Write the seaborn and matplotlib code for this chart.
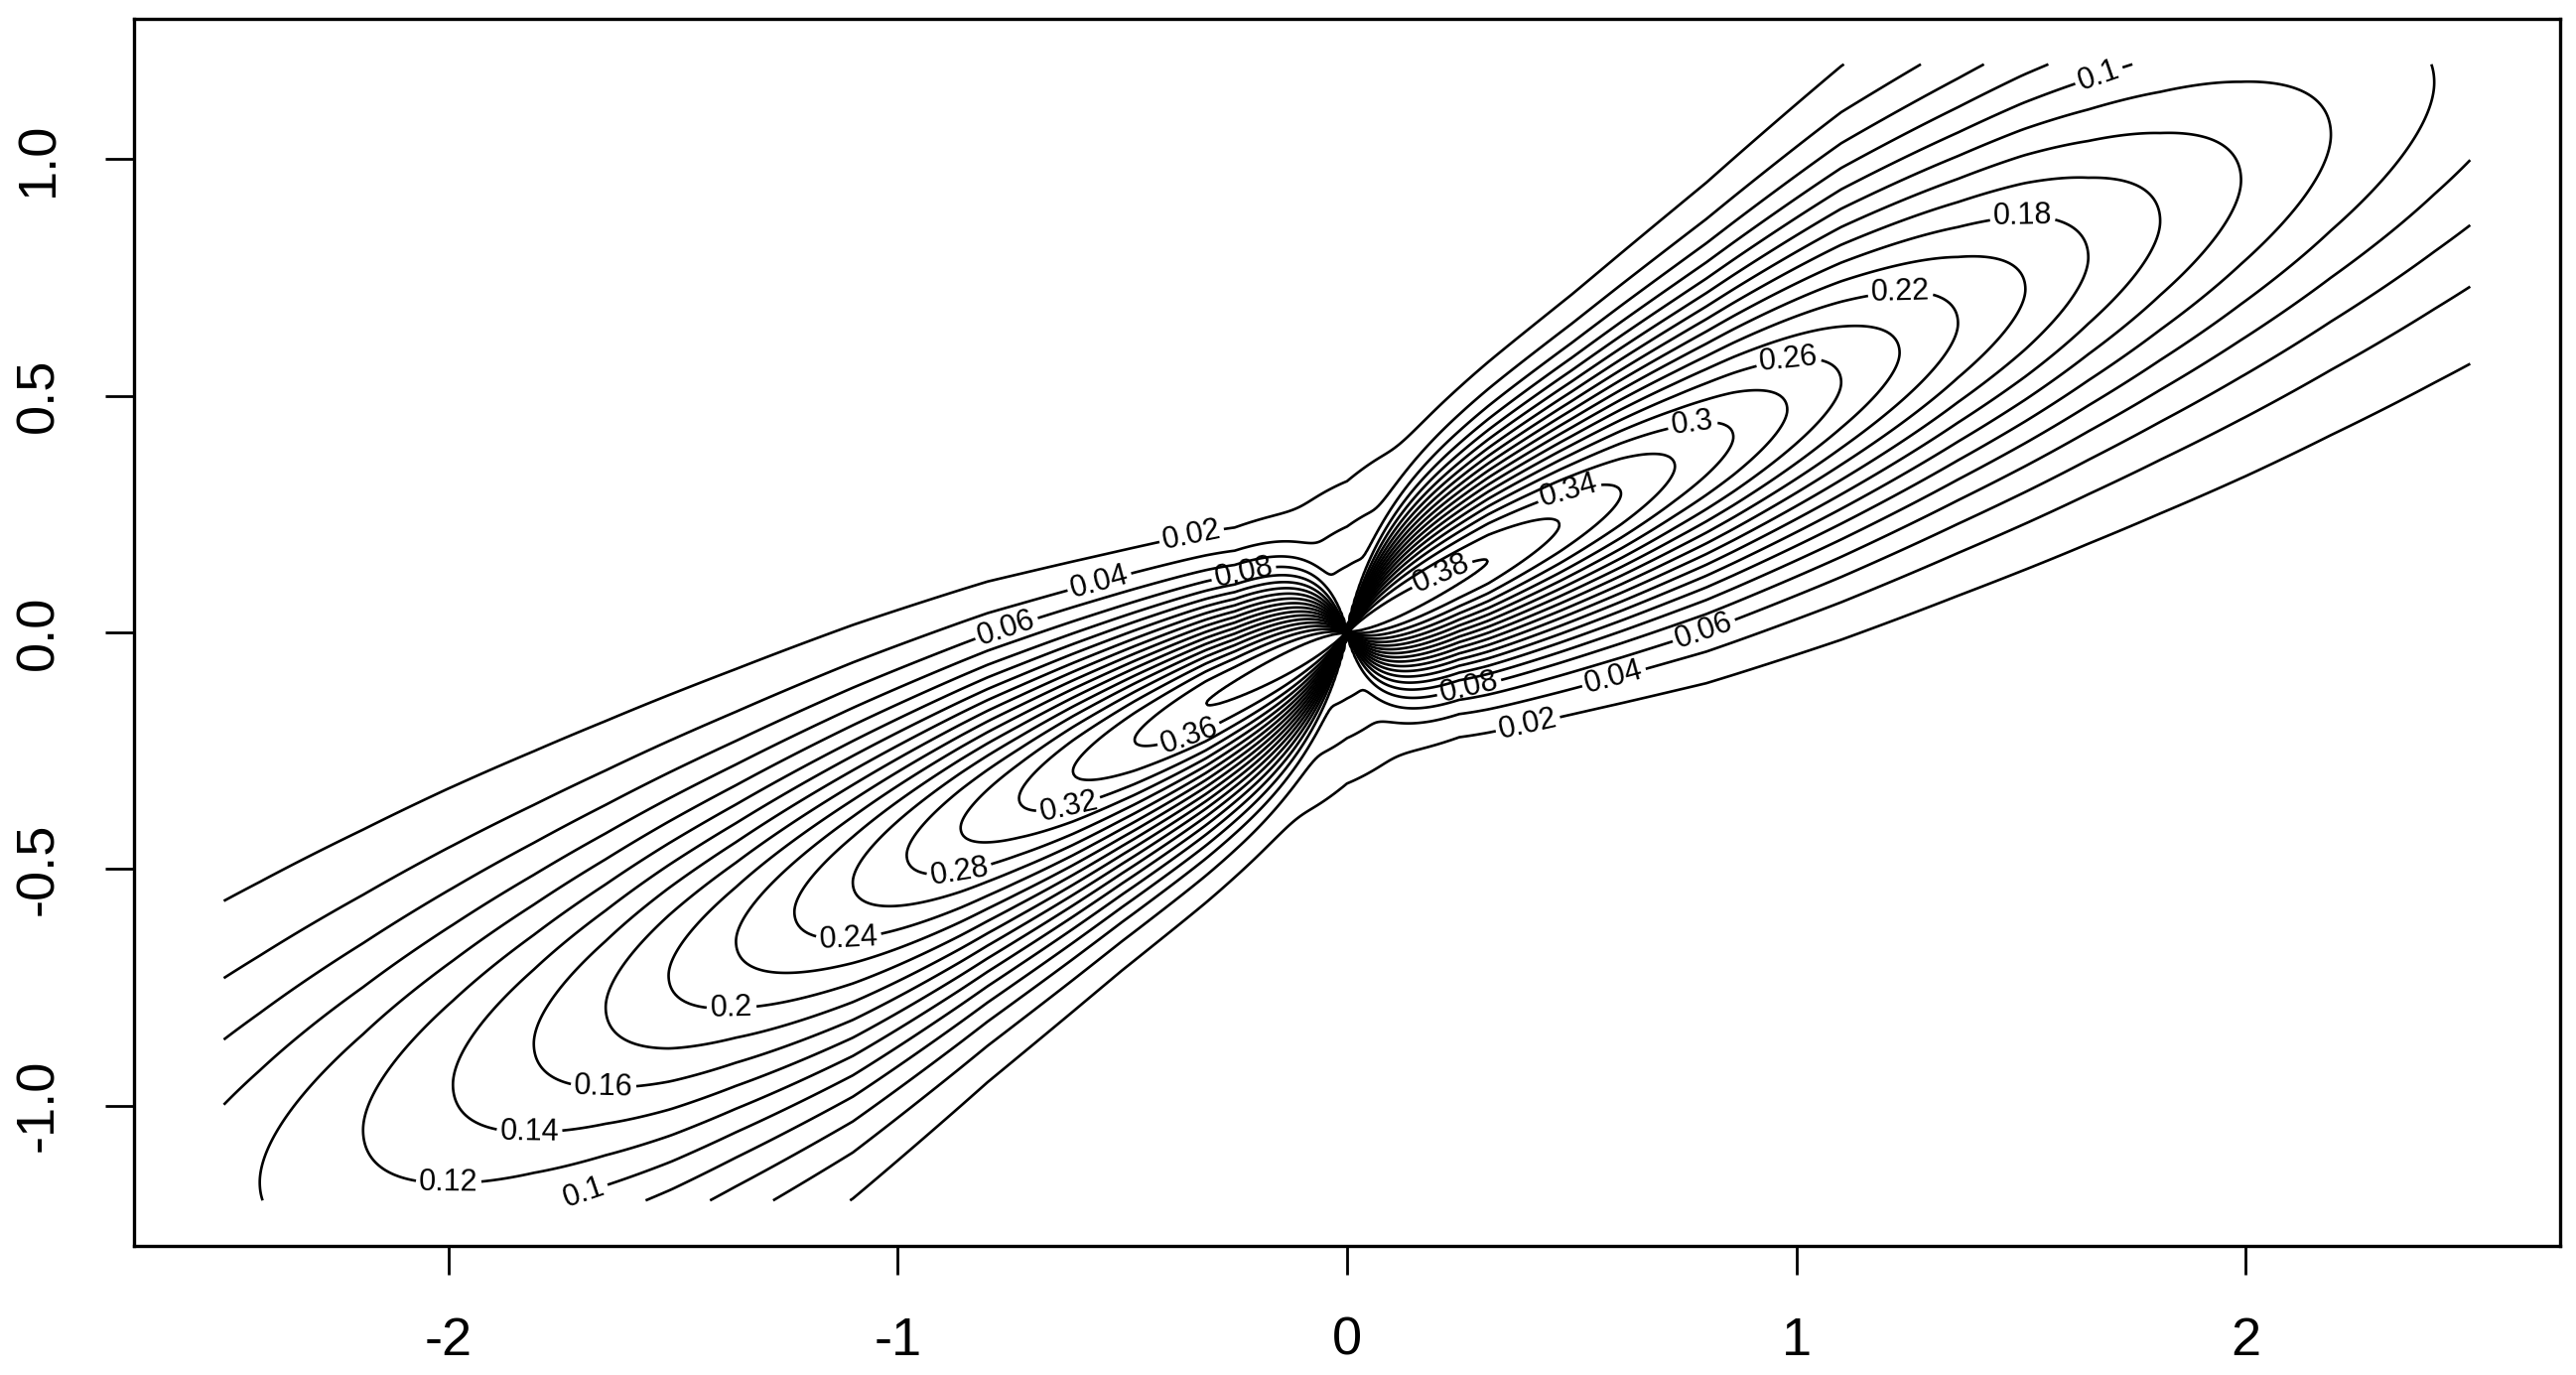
import numpy as np
import seaborn as sns
import matplotlib
matplotlib.use("Agg")
import matplotlib.pyplot as plt

# ridge of the surface runs along y = ridge_slope * x
ridge_slope = 0.48

ridge_x = [0.0, 0.314, 0.473, 0.61, 0.73, 0.86, 0.98, 1.10, 1.23, 1.36,
           1.51, 1.65, 1.81, 1.99, 2.19, 2.42, 2.8]
ridge_z = [0.395, 0.38, 0.36, 0.34, 0.32, 0.30, 0.28, 0.26, 0.24, 0.22,
           0.20, 0.18, 0.16, 0.14, 0.12, 0.10, 0.07]

# spread across the ridge, narrow flank and wide flank
width_x = [0.0, 0.25, 0.5, 0.8, 1.1, 1.5, 2.0, 2.5]
width_narrow = [0.13, 0.14, 0.172, 0.21, 0.24, 0.275, 0.32, 0.36]
width_wide = [0.13, 0.163, 0.197, 0.242, 0.295, 0.335, 0.375, 0.40]

# shoulder around the origin: share of the peak, its reach and its spread
shoulder_share = 0.197
shoulder_reach = 0.3
shoulder_spread = 1.49
core_reach = 0.1

levels = [0.02, 0.04, 0.06, 0.08, 0.10, 0.12, 0.14, 0.16, 0.18, 0.20,
          0.22, 0.24, 0.26, 0.28, 0.30, 0.32, 0.34, 0.36, 0.38]

x_ticks = [-2, -1, 0, 1, 2]
y_ticks = [-1.0, -0.5, 0.0, 0.5, 1.0]

# contour labels: level and where it sits in the picture
label_levels = [0.02, 0.04, 0.06, 0.08,
                0.02, 0.04, 0.06, 0.08,
                0.10, 0.12, 0.14, 0.16, 0.20, 0.24, 0.28, 0.32, 0.36,
                0.38, 0.34, 0.30, 0.26, 0.22, 0.18, 0.10]
label_spots = [(-0.347, 0.21), (-0.553, 0.113), (-0.76, 0.015), (-0.23, 0.126),
               (0.404, -0.2), (0.597, -0.105), (0.80, -0.013), (0.272, -0.118),
               (-1.70, -1.18), (-2.0, -1.15), (-1.82, -1.04), (-1.655, -0.95),
               (-1.37, -0.79), (-1.11, -0.634), (-0.864, -0.50), (-0.62, -0.367),
               (-0.347, -0.23), (0.21, 0.126), (0.497, 0.29), (0.77, 0.437),
               (0.985, 0.562), (1.233, 0.70), (1.505, 0.857), (1.677, 1.167)]


def surface(x, y):
    ax_ = np.abs(x)
    v = y - ridge_slope * x
    h = np.interp(ax_, ridge_x, ridge_z)
    wide = (x * v) > 0
    s = np.where(wide, np.interp(ax_, width_x, width_wide),
                 np.interp(ax_, width_x, width_narrow))
    core = np.maximum(s * (1 - np.exp(-ax_ / core_reach)), 1e-6)
    beta = shoulder_share * np.exp(-(x / shoulder_reach) ** 2)
    s_sh = s * shoulder_spread
    prof = (1 - beta) * np.exp(-v ** 2 / (2 * core ** 2)) + beta * np.exp(-v ** 2 / (2 * s_sh ** 2))
    return h * prof


gx = np.linspace(-2.5, 2.5, 1001)
gy = np.linspace(-1.2, 1.2, 481)
X, Y = np.meshgrid(gx, gy)
Z = surface(X, Y)

sns.set_theme(style="white")
plt.rcParams['font.family'] = ['Liberation Sans', 'DejaVu Sans']

fig = plt.figure(figsize=(25.95, 13.85), dpi=100)
ax = fig.add_axes([0.052, 0.0939, 0.9418, 0.8924])

# one contour set per level so each label lands on its own level
for lev in levels:
    cs = ax.contour(X, Y, Z, levels=[lev], colors="black", linewidths=1.9)
    spots = [p for l, p in zip(label_levels, label_spots) if abs(l - lev) < 1e-9]
    if spots:
        ax.clabel(cs, fmt="%g", fontsize=22, inline=True, inline_spacing=6,
                  manual=spots)

ax.set_xlim(-2.7, 2.7)
ax.set_ylim(-1.296, 1.296)
ax.set_xticks(x_ticks)
ax.set_xticklabels([str(t) for t in x_ticks])
ax.set_yticks(y_ticks)
ax.set_yticklabels(["%.1f" % t for t in y_ticks], rotation=90, va="center")
ax.tick_params(axis="both", direction="out", length=21, width=2.0,
               labelsize=39, pad=30, color="black", labelcolor="black",
               bottom=True, left=True)
for sp in ax.spines.values():
    sp.set_visible(True)
    sp.set_color("black")
    sp.set_linewidth(2.4)

fig.savefig("out.png", dpi=100, facecolor="white")
